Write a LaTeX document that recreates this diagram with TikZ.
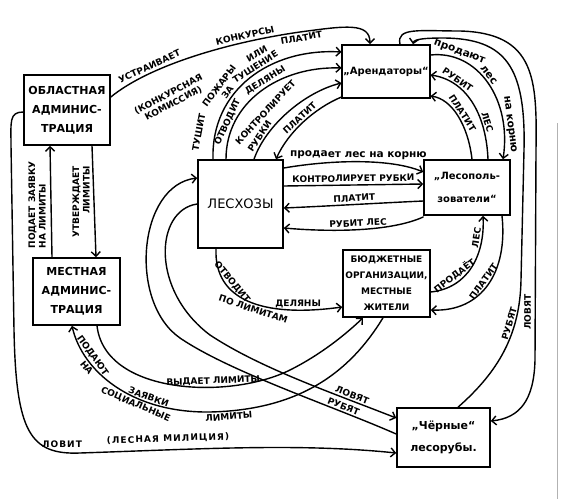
\documentclass[tikz,border=0pt]{standalone}
\usepackage{fontspec}
\usetikzlibrary{arrows.meta,calc}
\newfontfamily\hand{DejaVu Sans}
\newfontfamily\handsp[LetterSpace=12]{DejaVu Sans}
\newcommand\bxfont{\hand\bfseries\fontsize{11}{19}\selectfont}
\newcommand\lbfont{\hand\bfseries\fontsize{9}{10.5}\selectfont}
\newcommand\lsfont{\handsp\bfseries\fontsize{9}{10.5}\selectfont}
\newcommand\lcfont{\hand\bfseries\fontsize{10.5}{11}\selectfont}
\begin{document}
\begin{tikzpicture}[x=1pt,y=-1pt,
  box/.style={draw, line width=1.6pt, align=center, inner sep=1pt, font=\bxfont},
  ln/.style={line width=1.4pt, line cap=round, line join=round},
  arr/.style={ln, -{Straight Barb[length=4.5pt,width=9pt]}},
  w/.style={font=\lbfont, inner sep=0.5pt, sloped},
  wl/.style={font=\lcfont, inner sep=0.5pt, sloped},
  lab/.style={font=\lbfont, inner sep=0.5pt, align=center}]

\fill[white] (0,0) rectangle (587,499);
\useasboundingbox (0,0) rectangle (587,499);

% ---- boxes ----
\node[box, minimum width=86pt, minimum height=70pt] (obl) at (67,110) {ОБЛАСТНАЯ\\АДМИНИС-\\ТРАЦИЯ};
\node[box, minimum width=87pt, minimum height=67pt] (mest) at (76.5,291.5) {МЕСТНАЯ\\АДМИНИС-\\ТРАЦИЯ};
\node[box, minimum width=82pt, minimum height=53pt, font=\hand\bfseries\fontsize{10}{12}\selectfont] (arend) at (386,71.5) {„Арендаторы“};
\node[box, minimum width=85pt, minimum height=88pt, font=\hand\fontsize{13}{15}\selectfont] (lesh) at (240.5,204) {ЛЕСХОЗЫ};
\node[box, minimum width=86pt, minimum height=55pt, font=\hand\bfseries\fontsize{10}{23}\selectfont] (lesp) at (467,187.5) {„Лесополь-\\зователи“};
\node[box, minimum width=87pt, minimum height=67pt, font=\hand\bfseries\fontsize{9}{16}\selectfont] (budg) at (386.5,283.5) {БЮДЖЕТНЫЕ\\ОРГАНИЗАЦИИ,\\МЕСТНЫЕ\\ЖИТЕЛИ};
\node[box, minimum width=93pt, minimum height=59pt, font=\hand\bfseries\fontsize{11}{22}\selectfont] (cher) at (443.5,437.5) {„Чёрные“\\лесорубы.};

% ---- Областная -> Арендаторы ----
\draw[arr] (obl.east |- 0,97) .. controls (150,65) and (230,42) .. (300,32)
  node[w, above=2pt, pos=.28] (tA1) {УСТРАИВАЕТ}
  node[w, above=2pt, pos=.75] (tA2) {КОНКУРСЫ}
  .. controls (345,26) and (370,22) .. (370,0 |- arend.north);
\node[lab, rotate=28] (tA3) at (171,99) {(КОНКУРСНАЯ\\КОМИССИЯ)};

% ---- Лесхозы <-> Арендаторы ----
\draw[arr] (213,0 |- lesh.north) .. controls (211,90) and (270,48) .. (arend.west |- 0,52)
  node[w, above=12pt, pos=.12] (tB1a) {ТУШИТ}
  node[w, above=12pt, pos=.36] (tB1b) {ПОЖАРЫ}
  node[w, above=12pt, pos=.6] (tB1c) {ИЛИ}
  node[w, above=12pt, pos=.82] (tB1d) {ПЛАТИТ}
  node[w, above=1.5pt, pos=.36] (tB1e) {ЗА}
  node[w, above=1.5pt, pos=.56] (tB1f) {ТУШЕНИЕ};
\draw[arr] (226,0 |- lesh.north) .. controls (226,102) and (280,66) .. (arend.west |- 0,68)
  node[w, above=1pt, pos=.22] (tB2a) {ОТВОДИТ}
  node[w, above=1pt, pos=.56] (tB2b) {ДЕЛЯНЫ};
\draw[arr] (254,0 |- lesh.north) .. controls (266,125) and (305,92) .. (arend.west |- 0,83)
  node[w, above=11pt, pos=.37] (tB3a) {КОНТРОЛИРУЕТ}
  node[w, above=1pt, pos=.2] (tB3b) {РУБКИ};
\draw[arr] (arend.west |- 0,97) .. controls (315,108) and (288,132) .. (276,0 |- lesh.north)
  node[w, above=1pt, pos=.5] (tB4) {ПЛАТИТ};

% ---- Лесхозы <-> Лесопользователи ----
\draw[arr] (lesh.east |- 0,168) .. controls (330,160) and (390,158) .. (lesp.west |- 0,172)
  node[wl, above=1pt, pos=.5] (tC1) {продает лес на корню};
\draw[arr] (lesh.east |- 0,186) -- (lesp.west |- 0,184)
  node[w, above=2pt, midway] (tC2) {КОНТРОЛИРУЕТ РУБКИ};
\draw[arr] (lesp.west |- 0,201) .. controls (380,203) and (330,206) .. (lesh.east |- 0,208)
  node[w, above=2pt, pos=.5] (tC3) {ПЛАТИТ};
\draw[arr] (lesp.west |- 0,217) .. controls (390,232) and (330,232) .. (lesh.east |- 0,228)
  node[w, above=2pt, pos=.5] (tC4) {РУБИТ ЛЕС};

% ---- Арендаторы <-> Лесопользователи ----
\draw[arr] (arend.east |- 0,55) .. controls (478,50) and (512,100) .. (503,0 |- lesp.north)
  node[wl, above=1pt, pos=.2] (tD1a) {продают}
  node[wl, above=1pt, pos=.46] (tD1b) {лес}
  node[wl, above=1pt, pos=.8] (tD1c) {на корню};
\draw[arr] (488,0 |- lesp.north) .. controls (486,112) and (465,80) .. (arend.east |- 0,75)
  node[w, above=1pt, pos=.74] (tD2a) {РУБИТ}
  node[w, above=1pt, pos=.28] (tD2b) {ЛЕС};
\draw[arr] (472,0 |- lesp.north) .. controls (468,125) and (452,99) .. (arend.east |- 0,96)
  node[w, above=1pt, pos=.5] (tD3) {ПЛАТИТ};

% ---- Бюджетные <-> Лесопользователи ----
\draw[arr] (budg.east |- 0,292) .. controls (468,288) and (485,255) .. (483,0 |- lesp.south)
  node[w, above=1pt, pos=.3] (tE1a) {ПРОДАЁТ}
  node[w, above=1pt, pos=.8] (tE1b) {ЛЕС};
\draw[arr] (502,0 |- lesp.south) .. controls (508,272) and (482,312) .. (budg.east |- 0,310)
  node[w, above=1pt, pos=.5] (tE2) {ПЛАТИТ};

% ---- Лесхозы -> Бюджетные ----
\draw[arr] (216,0 |- lesh.south) .. controls (214,300) and (262,318) .. (budg.west |- 0,307)
  node[w, above=1pt, pos=.3] (tF1) {ОТВОДИТ}
  node[w, above=1pt, pos=.8] (tF2) {ДЕЛЯНЫ}
  node[w, below=1pt, pos=.55] (tF3) {ПО ЛИМИТАМ};

% ---- Местная <-> Бюджетные ----
\draw[arr] (97,0 |- mest.south) .. controls (105,395) and (230,400) .. (290,370)
  node[w, above=1pt, pos=.66] (tG) {ВЫДАЕТ ЛИМИТЫ}
  .. controls (320,355) and (345,335) .. (363,0 |- budg.south);
\draw[arr] (383,0 |- budg.south) .. controls (350,372) and (300,410) .. (210,412)
  node[w, below=1pt, pos=.93] (tH5) {ЛИМИТЫ}
  .. controls (130,413) and (82,370) .. (72,0 |- mest.south)
  node[w, above=1pt, pos=.3] (tH2) {ЗАЯВКИ}
  node[w, above=1pt, pos=.74] (tH1) {ПОДАЮТ}
  node[w, below=1pt, pos=.35] (tH4) {СОЦИАЛЬНЫЕ}
  node[w, below=1pt, pos=.7] (tH3) {НА};

% ---- Лесхозы <-> Чёрные лесорубы ----
\draw[arr] (lesh.west |- 0,204) .. controls (155,210) and (150,290) .. (210,335)
  .. controls (260,368) and (330,392) .. (cher.west |- 0,418)
  node[w, above=1pt, pos=.77] (tI1) {ЛОВЯТ};
\draw[arr] (cher.west |- 0,434) .. controls (330,405) and (230,372) .. (180,338)
  node[w, above=1pt, pos=.25] (tI2) {РУБЯТ}
  .. controls (128,302) and (138,185) .. (lesh.west |- 0,178);

% ---- Арендаторы <-> Чёрные лесорубы ----
\draw[arr] (400,0 |- arend.north) .. controls (396,27) and (420,31) .. (460,31)
  .. controls (536,33) and (537,80) .. (536,150) -- (535,360)
  .. controls (534,400) and (520,418) .. (cher.east |- 0,421);
\node[lab, rotate=90] (tJ1) at (527.5,312) {ЛОВЯТ};
\draw[arr] (458,0 |- cher.north) .. controls (498,372) and (520,335) .. (521,280)
  node[w, above=1pt, pos=.7] (tJ2) {РУБЯТ}
  -- (524,150) .. controls (526,66) and (505,39) .. (445,38)
  .. controls (425,38) and (414,39) .. (413,0 |- arend.north);

% ---- Областная <-> Местная ----
\draw[arr] (52,0 |- mest.north) -- (50,0 |- obl.south);
\draw[arr] (92,0 |- obl.south) -- (96,0 |- mest.north);
\node[lab, rotate=90, align=left] (tK1) at (37,205) {ПОДАЕТ ЗАЯВКУ\\НА ЛИМИТЫ};
\node[lab, rotate=90, align=right] (tK2) at (81,202) {УТВЕРЖДАЕТ\\ЛИМИТЫ};

% ---- Областная -> Чёрные лесорубы ----
\draw[arr] (obl.west |- 0,112) .. controls (9,112) and (11,122) .. (11,145) -- (14,330)
  .. controls (16,432) and (30,455) .. (80,453)
  .. controls (200,449) and (300,443) .. (cher.west |- 0,453);
\node[lab, font=\lsfont] (tL1) at (62,444) {ЛОВИТ};
\node[lab, font=\lsfont, rotate=2] (tL2) at (168,439) {(ЛЕСНАЯ МИЛИЦИЯ)};

% scan edge
\draw[black!30, line width=0.6pt] (557,123) -- (557,499);
\end{tikzpicture}
\end{document}
